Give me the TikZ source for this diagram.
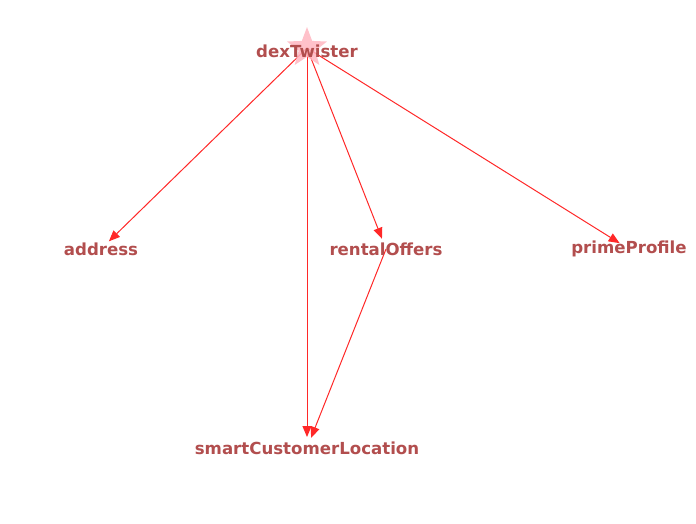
\documentclass[tikz,border=0pt]{standalone}
\usepackage{fontspec}
\setmainfont{DejaVu Sans}
\usetikzlibrary{arrows.meta,shapes.geometric}
\definecolor{lbl}{RGB}{178,78,78}
\definecolor{edge}{RGB}{255,40,40}
\definecolor{starpink}{RGB}{255,182,193}
\tikzset{
  lab/.style={text=lbl, font=\fontsize{16.6}{19}\selectfont\bfseries, inner sep=0pt},
  conn/.style={draw=edge, line width=1pt, -{Triangle[length=11pt,width=9pt]}, shorten >=11pt},
}
\begin{document}
\begin{tikzpicture}[x=1pt,y=-1pt]
\useasboundingbox (0,0) rectangle (696,523);
\coordinate (cd) at (307,48);
\coordinate (ca) at (101,249);
\coordinate (cr) at (386,249);
\coordinate (cp) at (629,249);
\coordinate (cs) at (307,448);
\draw[conn] (cd) -- (ca);
\draw[conn] (cd) -- (cr);
\draw[conn] (cd) -- (cp);
\draw[conn] (cd) -- (cs);
\draw[conn] (cr) -- (cs);
\node[star, star points=5, star point ratio=2.4, minimum size=42pt, fill=starpink, fill opacity=0.85, inner sep=0pt] (st) at (cd) {};
\node[lab] (d) at (307,51) {dexTwister};
\node[lab] (a) at (101,249) {address};
\node[lab] (r) at (386,249) {rentalOffers};
\node[lab] (p) at (629,249) {primeProfile};
\node[lab] (s) at (307,448) {smartCustomerLocation};
\end{tikzpicture}
\end{document}
